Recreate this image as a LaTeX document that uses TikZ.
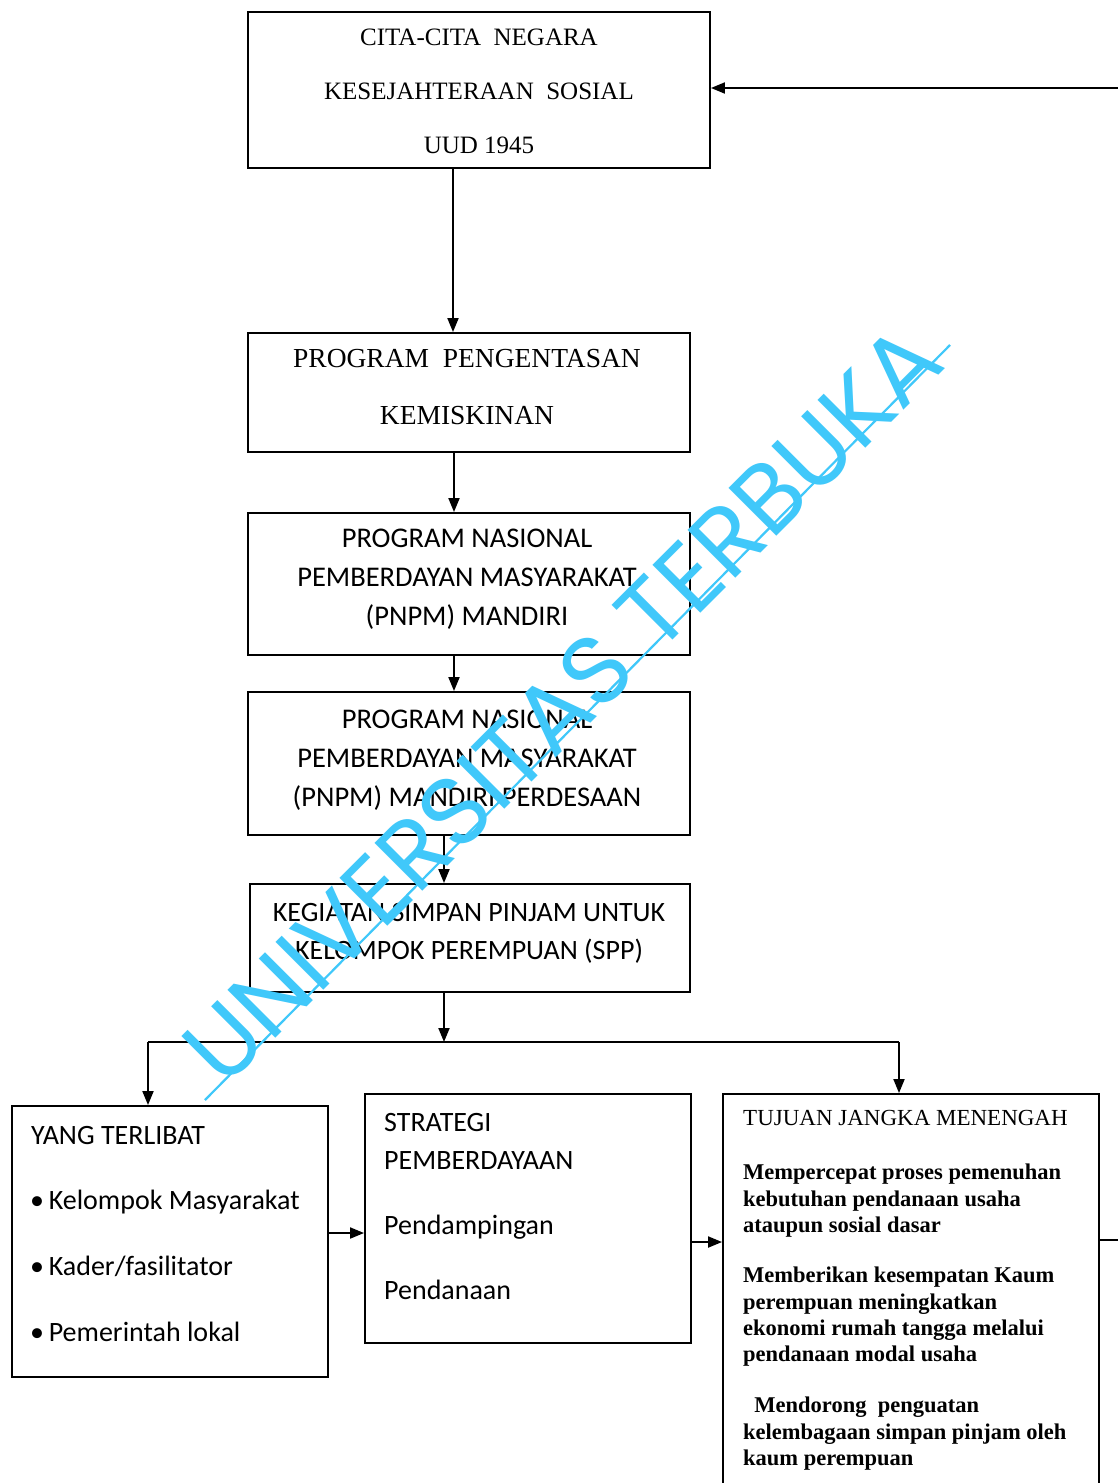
\documentclass[tikz,border=0pt]{standalone}
\usepackage{fontspec}
\setmainfont{Liberation Serif}
\newfontfamily\calfont{Carlito}
\newfontfamily\wmfont{Poppins}
\usetikzlibrary{arrows.meta,fit}
\definecolor{wmc}{RGB}{64,200,250}
\begin{document}
\begin{tikzpicture}[x=1pt,y=-1pt,
  box/.style={draw, line width=1.9pt, inner sep=0pt},
  arr/.style={line width=1.9pt, -{Triangle[length=14pt,width=11pt]}},
  ln/.style={line width=1.9pt},
  sertxt/.style={align=center, inner sep=0pt},
  santxt/.style={inner sep=0pt, anchor=base west, font=\calfont\fontsize{28}{33}\selectfont},
  boldpar/.style={inner sep=0pt, anchor=north west, align=left, font=\bfseries\fontsize{22.5}{26.2}\selectfont},
  wmtxt/.style={text=wmc, inner sep=0pt, font=\wmfont\fontsize{97}{100}\selectfont}]
\useasboundingbox (0,0) rectangle (1118,1483);
\fill[white] (0,0) rectangle (1118,1483);

% boxes
\node[box, fit={(248,12) (710,168)}] (b1) {};
\node[box, fit={(248,333) (690,452)}] (b2) {};
\node[box, fit={(248,513) (690,655)}] (b3) {};
\node[box, fit={(248,692) (690,835)}] (b4) {};
\node[box, fit={(250,884) (690,992)}] (b5) {};
\node[box, fit={(12,1106) (328,1377)}] (b6) {};
\node[box, fit={(365,1094) (691,1343)}] (b7) {};
\node[box, fit={(723,1094) (1099,1500)}] (b8) {};

% texts
\node[sertxt, font=\fontsize{25}{54}\selectfont] (t1) at (479,91)
  {CITA-CITA\ \ NEGARA\\KESEJAHTERAAN\ \ SOSIAL\\UUD 1945};
\node[sertxt, font=\fontsize{27.5}{57}\selectfont] (t2) at (467,387)
  {PROGRAM\ \ PENGENTASAN\\KEMISKINAN};
\node[sertxt, font=\calfont\fontsize{28.5}{39}\selectfont] (t3) at (467,579)
  {PROGRAM NASIONAL\\PEMBERDAYAN MASYARAKAT\\(PNPM) MANDIRI};
\node[sertxt, font=\calfont\fontsize{28.5}{39}\selectfont] (t4) at (467,760)
  {PROGRAM NASIONAL\\PEMBERDAYAN MASYARAKAT\\(PNPM) MANDIRI PERDESAAN};
\node[sertxt, font=\calfont\fontsize{28}{38}\selectfont] (t5) at (469,933)
  {KEGIATAN SIMPAN PINJAM UNTUK\\KELOMPOK PEREMPUAN (SPP)};

\node[santxt] (t6a) at (31,1144) {YANG TERLIBAT};
\node[santxt] (t6b) at (30,1209) {•\,Kelompok Masyarakat};
\node[santxt] (t6c) at (30,1275) {•\,Kader/fasilitator};
\node[santxt] (t6d) at (30,1341) {•\,Pemerintah lokal};

\node[santxt] (t7a) at (384,1131) {STRATEGI};
\node[santxt] (t7b) at (384,1169) {PEMBERDAYAAN};
\node[santxt] (t7c) at (384,1234) {Pendampingan};
\node[santxt] (t7d) at (384,1299) {Pendanaan};

\node[inner sep=0pt, anchor=base west, font=\fontsize{23}{26}\selectfont] (t8a) at (743,1125) {TUJUAN JANGKA MENENGAH};
\node[boldpar] (t8b) at (743,1164) {Mempercepat proses pemenuhan\\kebutuhan pendanaan usaha\\ataupun sosial dasar};
\node[boldpar] (t8c) at (743,1267) {Memberikan kesempatan Kaum\\perempuan meningkatkan\\ekonomi rumah tangga melalui\\pendanaan modal usaha};
\node[boldpar] (t8d) at (743,1397) {\ \ Mendorong\ \ penguatan\\kelembagaan simpan pinjam oleh\\kaum perempuan};

% connectors
\draw[arr] ([xshift=-26pt]b1.south) -- ([xshift=-26pt]b1.south |- b2.north);
\draw[arr] ([xshift=-15pt]b2.south) -- ([xshift=-15pt]b2.south |- b3.north);
\draw[arr] ([xshift=-15pt]b3.south) -- ([xshift=-15pt]b3.south |- b4.north);
\draw[arr] ([xshift=-25pt]b4.south) -- ([xshift=-25pt]b4.south |- b5.north);
\coordinate (j) at (444,1042);
\coordinate (jl) at (148,1042);
\coordinate (jr) at (899,1042);
\draw[arr] (b5.south -| j) -- (j);
\draw[ln] (jl) -- (jr);
\draw[arr] (jl) -- (jl |- b6.north);
\draw[arr] (jr) -- (jr |- b8.north);
\coordinate (r1) at (0,1233);
\coordinate (r2) at (0,1242);
\draw[arr] (b6.east |- r1) -- (b7.west |- r1);
\draw[arr] (b7.east |- r2) -- (b8.west |- r2);
\coordinate (fbr) at (1121,1240);
\coordinate (fbt) at (1121,88);
\draw[arr] (b8.east |- fbr) -- (fbr) -- (fbt) -- (b1.east |- fbt);

% watermark
\node[wmtxt, rotate=45] (wm) at (562,704) {UNIVERSITAS TERBUKA};
\draw[wmc, line width=2.2pt] (205,1100) -- (950,345);
\end{tikzpicture}
\end{document}
